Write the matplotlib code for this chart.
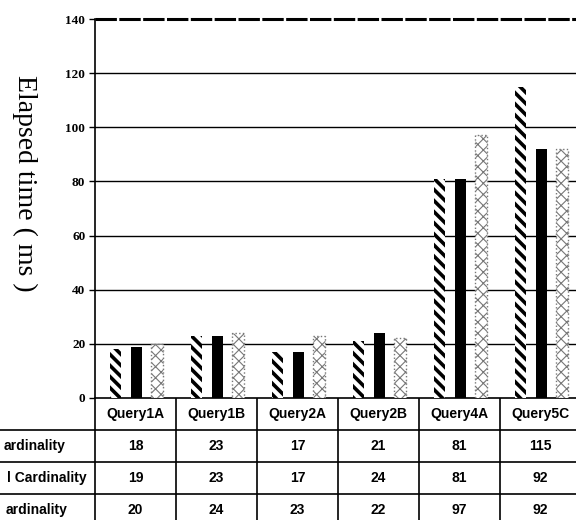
import numpy as np
import matplotlib.pyplot as plt

# Data
queries = ['Query1A', 'Query1B', 'Query2A', 'Query2B', 'Query4A', 'Query5C']
row_labels = ['ardinality', 'l Cardinality', 'ardinality']
series_a = [18, 23, 17, 21, 81, 115]
series_b = [19, 23, 17, 24, 81, 92]
series_c = [20, 24, 23, 22, 97, 92]
yticks = [0, 20, 40, 60, 80, 100, 120, 140]

W, H = 576, 520
fig = plt.figure(figsize=(W / 100, H / 100), dpi=100)

# plot area: x 95..581 px, y 19..398 px (from top)
x0, x1, ytop, ybot = 95, 581, 19, 398
ax = fig.add_axes([x0 / W, (H - ybot) / H, (x1 - x0) / W, (ybot - ytop) / H])
ax.set_xlim(-0.5, len(queries) - 0.5)
ax.set_ylim(0, 140)

x = np.arange(len(queries))
bw = 0.14
off = 0.255

for v in yticks[1:-1]:
    ax.axhline(v, color='black', lw=1, zorder=1)
ax.axhline(140, color='black', lw=2.2, ls=(0, (7, 0.8)), zorder=1, clip_on=False)

with plt.rc_context({'hatch.linewidth': 2.6, 'hatch.color': 'black'}):
    ax.bar(x - off + 0.01, series_a, bw, color='white', edgecolor='black',
           linewidth=0, hatch='\\\\\\', zorder=3)
ax.bar(x + 0.01, series_b, bw, color='black', linewidth=0, zorder=3)
with plt.rc_context({'hatch.linewidth': 0.8}):
    ax.bar(x + off + 0.01, series_c, bw, color='white', edgecolor='#777777',
           linewidth=1.0, linestyle=':', hatch='xxx', zorder=3)

ax.set_yticks(yticks)
ax.set_yticklabels([str(t) for t in yticks], fontfamily='Liberation Serif',
                   fontweight='bold', fontsize=9.5)
ax.tick_params(axis='y', direction='out', length=4, width=1, pad=3)
ax.set_xticks([])
for s in ['top', 'right']:
    ax.spines[s].set_visible(False)
ax.spines['left'].set_linewidth(1.2)
ax.spines['bottom'].set_linewidth(1.2)

fig.text(25 / W, 1 - 183 / H, 'Elapsed time ( ms )', rotation=270,
         ha='center', va='center', fontfamily='Liberation Serif', fontsize=20)

# data table below the plot
row_h = 32
tab = fig.add_axes([0, (H - ybot - 4 * row_h) / H, x1 / W, 4 * row_h / H])
tab.set_xlim(-0.5 - x0 / 81, len(queries) - 0.5)
tab.set_ylim(4, 0)
tab.axis('off')
for i in range(len(queries) + 1):
    tab.plot([i - 0.5, i - 0.5], [0, 4], color='black', lw=1.2)
for r in range(1, 4):
    tab.plot([-0.5 - x0 / 81, len(queries) - 0.5], [r, r], color='black', lw=1.2)

font = dict(fontfamily='Liberation Sans', fontsize=10, fontweight='bold',
            ha='center', va='center')
for i, q in enumerate(queries):
    tab.text(i, 0.5, q, **font)
for r, vals in enumerate([series_a, series_b, series_c]):
    for i, v in enumerate(vals):
        tab.text(i, r + 1.5, str(v), **font)

label_ends = [65, 87, 68]
for r, (lab, xe) in enumerate(zip(row_labels, label_ends)):
    fig.text(xe / W, 1 - (398 + row_h * (r + 1.5)) / H, lab, ha='right', va='center',
             fontfamily='Liberation Sans', fontsize=10, fontweight='bold')

fig.savefig('out.png', dpi=100)
